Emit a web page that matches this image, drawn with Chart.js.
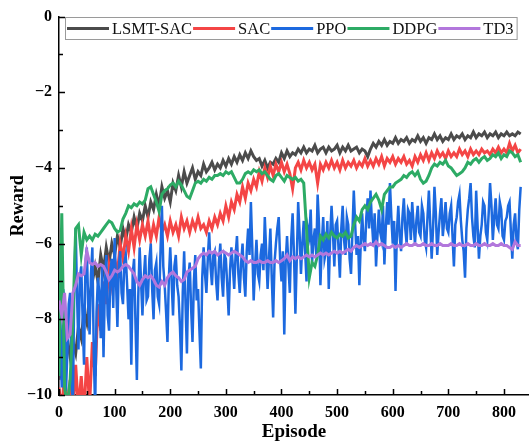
<!DOCTYPE html>
<html>
<head>
<meta charset="utf-8">
<script src="https://cdn.jsdelivr.net/npm/chart.js@4/dist/chart.umd.min.js"></script>
<style>
  body { margin: 0; background: #fff; }
  #rewardChart { display: block; }
</style>
</head>
<body>
<canvas id="rewardChart" width="529" height="447"></canvas>
<script>
// most series every 5 episodes, PPO every 2.5
const STEP = 5;
const PPO_STEP = 2.5;

const lsmtSac = [
  -9.6, -9.2, -8.8, -8.5, -9.0, -8.6, -8.9, -8.2, -8.5, -7.8,
  -8.1, -7.4, -7.0, -6.6, -7.0, -6.3, -6.7, -6.1, -6.5, -6.0,
  -6.3, -5.8, -6.1, -5.6, -5.9, -5.5, -5.7, -5.3, -5.6, -5.2,
  -5.4, -5.0, -5.3, -4.9, -5.1, -4.7, -5.0, -4.5, -4.8, -4.6,
  -4.9, -4.4, -4.6, -4.2, -4.5, -4.1, -4.4, -4.2, -4.0, -4.3,
  -4.1, -4.2, -3.9, -4.1, -4.0, -3.85, -4.05, -3.9, -4.0, -3.8,
  -3.95, -3.75, -3.9, -3.7, -3.85, -3.65, -3.8, -3.6, -3.75, -3.55,
  -3.7, -3.8, -3.75, -3.95, -3.8, -4.0, -3.85, -3.9, -3.75, -3.85,
  -3.6, -3.75, -3.55, -3.7, -3.6, -3.65, -3.5, -3.6, -3.45, -3.6,
  -3.5, -3.55, -3.4, -3.6, -3.5, -3.45, -3.6, -3.45, -3.55, -3.5,
  -3.4, -3.6, -3.45, -3.55, -3.4, -3.55, -3.5, -3.45, -3.6, -3.5,
  -3.55, -3.7, -3.5, -3.35, -3.45, -3.3, -3.4, -3.25, -3.4, -3.3,
  -3.35, -3.2, -3.35, -3.25, -3.3, -3.2, -3.35, -3.25, -3.3, -3.15,
  -3.3, -3.2, -3.35, -3.2, -3.25, -3.1, -3.25, -3.15, -3.3, -3.2,
  -3.25, -3.1, -3.25, -3.15, -3.2, -3.1, -3.25, -3.15, -3.2, -3.05,
  -3.2, -3.1, -3.15, -3.05, -3.2, -3.1, -3.15, -3.05, -3.2, -3.1,
  -3.15, -3.05, -3.15, -3.1, -3.15, -3.05, -3.1
];

const sac = [
  -9.8, -10.5, -9.3, -10.5, -9.6, -10.5, -9.2, -10.4, -9.5, -10.5,
  -9.0, -10.3, -8.6, -9.5, -7.6, -8.3, -7.0, -7.6, -6.6, -7.1,
  -6.4, -6.8, -6.0, -6.4, -5.8, -6.2, -5.6, -6.1, -5.5, -5.9,
  -5.5, -5.8, -5.4, -5.9, -5.5, -5.8, -5.3, -5.7, -5.5, -5.8,
  -5.4, -5.7, -5.5, -5.8, -5.3, -5.6, -5.4, -5.7, -5.4, -5.6,
  -5.3, -5.6, -5.5, -5.7, -5.4, -5.6, -5.3, -5.5, -5.2, -5.4,
  -5.0, -5.3, -4.9, -5.1, -4.7, -4.9, -4.5, -4.8, -4.4, -4.6,
  -4.3, -4.5, -4.1, -4.35, -4.0, -4.25, -3.95, -4.2, -3.9, -4.1,
  -3.85, -4.1, -3.9, -4.15, -4.55, -4.0, -3.85, -4.05, -3.8, -4.0,
  -3.85, -4.05, -3.9, -4.4, -3.9, -4.05, -3.85, -4.0, -3.8, -4.0,
  -3.85, -4.05, -3.8, -4.0, -3.85, -3.95, -3.8, -4.0, -3.85, -3.95,
  -3.75, -3.95, -3.8, -3.95, -3.75, -3.9, -3.7, -3.95, -3.75, -3.85,
  -3.7, -3.9, -3.75, -3.85, -3.7, -3.9, -3.8, -3.95, -3.7, -3.85,
  -3.65, -3.8, -3.6, -3.8, -3.6, -3.75, -3.55, -3.7, -3.6, -3.75,
  -3.55, -3.7, -3.6, -3.7, -3.5, -3.65, -3.55, -3.7, -3.5, -3.65,
  -3.55, -3.65, -3.5, -3.6, -3.55, -3.65, -3.5, -3.6, -3.45, -3.6,
  -3.5, -3.6, -3.35, -3.55, -3.4, -3.6, -3.5
];

const ppo = [
  -7.3, -8.6, -9.8, -7.2, -7.5, -9.9, -8.9, -7.6, -7.3, -9.5, -10.3, -7.0, -5.6, -7.4, -8.8, -6.9, -6.6, -8.0, -9.2, -6.5,
  -6.1, -7.6, -8.4, -6.8, -6.1, -8.9, -10.4, -7.8, -6.9, -7.3, -8.5, -6.6, -9.0, -7.1, -6.3, -7.9, -8.3, -6.7, -6.4, -7.7,
  -5.85, -7.0, -8.2, -6.6, -6.2, -7.3, -7.6, -6.5, -6.3, -7.1, -8.0, -7.2, -9.2, -6.8, -6.4, -8.1, -9.6, -7.4, -6.1, -7.0,
  -7.9, -6.9, -6.3, -7.5, -7.4, -6.4, -6.0, -7.2, -8.0, -6.7, -6.5, -7.4, -7.6, -6.2, -5.0, -6.6, -7.1, -7.8, -8.6, -6.9,
  -6.1, -7.0, -7.9, -6.6, -6.3, -7.1, -7.4, -8.2, -9.35, -7.3, -6.2, -7.6, -8.9, -6.9, -6.5, -7.7, -8.6, -7.0, -6.3, -7.5,
  -7.2, -8.3, -9.3, -6.9, -6.1, -6.8, -7.3, -6.4, -5.7, -6.6, -7.1, -6.3, -6.2, -7.0, -7.5, -6.5, -6.0, -6.9, -7.4, -6.3,
  -6.4, -7.1, -7.9, -6.7, -6.1, -6.6, -7.2, -6.3, -5.8, -6.8, -7.3, -6.5, -6.0, -6.9, -7.4, -6.2, -5.6, -6.3, -4.9, -6.1,
  -7.5, -6.6, -5.9, -6.8, -7.0, -6.3, -6.0, -6.7, -5.3, -6.2, -7.2, -6.4, -5.6, -6.9, -7.95, -6.5, -6.0, -5.6, -5.3, -6.4,
  -7.0, -6.2, -8.4, -6.5, -5.8, -6.6, -7.3, -5.9, -5.2, -6.3, -7.85, -6.4, -4.9, -5.7, -6.8, -6.0, -5.4, -6.2, -7.0, -5.6,
  -5.8, -5.1, -6.5, -5.9, -5.6, -6.3, -4.7, -5.5, -7.1, -6.0, -5.3, -6.4, -6.2, -5.4, -7.2, -5.8, -5.0, -5.7, -6.6, -5.5,
  -5.4, -6.1, -6.9, -5.6, -5.0, -5.9, -6.3, -5.3, -5.5, -6.4, -6.8, -5.7, -4.6, -5.5, -6.3, -5.8, -7.1, -6.0, -5.2, -5.9,
  -6.2, -5.3, -4.8, -5.6, -4.6, -5.4, -6.0, -5.2, -6.6, -5.8, -5.1, -5.7, -5.9, -5.0, -6.55, -5.6, -4.9, -5.5, -4.4, -5.3,
  -6.0, -5.4, -7.25, -5.7, -5.0, -5.8, -6.2, -5.3, -4.8, -5.6, -6.0, -5.1, -5.2, -5.9, -4.9, -5.5, -6.0, -5.4, -5.0, -5.7,
  -5.8, -5.0, -5.2, -5.9, -6.1, -5.3, -4.6, -5.5, -6.4, -5.6, -4.5, -5.2, -6.3, -5.7, -5.2, -4.8, -5.8, -5.4, -4.9, -5.6,
  -5.7, -5.2, -5.0, -5.8, -6.6, -5.5, -5.3, -4.9, -4.7, -5.4, -5.9, -6.2, -6.9, -5.6, -5.1, -4.8, -4.4, -5.3, -5.8, -6.1,
  -4.6, -5.5, -6.4, -5.8, -5.5, -4.9, -5.0, -5.7, -5.9, -5.2, -4.4, -5.0, -5.9, -5.3, -4.8, -5.5, -5.6, -4.9, -5.1, -5.8,
  -5.9, -5.4, -5.3, -5.0, -4.9, -5.7, -6.4, -5.5, -5.2, -5.9, -6.15, -5.1, -4.5
];

const ddpg = [
  -9.5, -5.2, -9.8, -10.3, -9.6, -8.0, -5.6, -5.5, -6.3, -5.7,
  -5.9, -5.8, -5.9, -5.75, -5.8, -5.7, -5.6, -5.5, -5.4, -5.45,
  -5.6, -5.7, -5.65, -5.35, -5.2, -5.0, -5.05, -4.95, -5.0, -4.9,
  -4.95, -4.85, -4.55, -4.5, -4.7, -4.9, -5.15, -4.7, -4.6, -4.55,
  -4.45, -4.4, -4.5, -4.35, -4.45, -4.6, -4.75, -4.8, -4.6, -4.4,
  -4.35, -4.4, -4.3, -4.35, -4.25, -4.3, -4.2, -4.2, -4.15, -4.2,
  -4.1, -4.15, -4.1, -4.25, -4.4, -4.4, -4.3, -4.15, -4.1, -4.15,
  -4.05, -4.1, -4.05, -4.15, -4.1, -4.2, -4.3, -4.35, -4.2, -4.15,
  -4.25, -4.35, -4.2, -4.25, -4.3, -4.25, -4.35, -4.3, -4.4, -5.6,
  -6.9, -6.5, -6.6, -6.3, -5.8, -5.9, -5.75, -5.85, -5.7, -5.8,
  -5.85, -5.75, -5.8, -5.7, -5.85, -5.8, -5.5, -5.3, -5.4, -5.1,
  -5.0, -5.1, -4.9, -4.8, -4.7, -4.85, -5.1, -4.7, -4.6, -4.5,
  -4.5, -4.4, -4.35, -4.3, -4.2, -4.25, -4.15, -4.1, -4.2, -4.1,
  -4.3, -4.4, -4.35, -4.2, -4.0, -3.9, -3.95, -3.85, -3.9, -3.8,
  -3.95, -4.0, -4.1, -4.2, -4.15, -4.1, -4.0, -3.85, -3.9, -3.8,
  -3.75, -3.85, -3.75, -3.7, -3.8, -3.75, -3.65, -3.7, -3.6, -3.75,
  -3.65, -3.7, -3.55, -3.6, -3.7, -3.65, -3.85
];

const td3 = [
  -7.5, -7.9, -7.3, -8.5, -8.4, -7.3, -7.1, -6.8, -6.85, -6.8,
  -6.2, -6.5, -6.55, -6.5, -6.6, -6.55, -6.6, -6.75, -6.95, -6.85,
  -6.7, -6.75, -6.7, -6.6, -6.55, -6.6, -6.7, -6.8, -7.0, -7.1,
  -6.95, -6.85, -6.9, -6.85, -6.95, -7.1, -7.15, -7.0, -7.1, -6.9,
  -6.8, -6.75, -6.85, -6.9, -7.0, -6.95, -6.75, -6.7, -6.65, -6.6,
  -6.4, -6.3, -6.25, -6.3, -6.2, -6.25, -6.2, -6.3, -6.25, -6.2,
  -6.25, -6.3, -6.25, -6.2, -6.25, -6.3, -6.35, -6.45, -6.5, -6.45,
  -6.5, -6.5, -6.45, -6.5, -6.5, -6.45, -6.5, -6.5, -6.45, -6.5,
  -6.45, -6.4, -6.3, -6.45, -6.35, -6.4, -6.35, -6.4, -6.35, -6.3,
  -6.35, -6.3, -6.35, -6.3, -6.25, -6.3, -6.25, -6.3, -6.25, -6.2,
  -6.25, -6.2, -6.25, -6.2, -6.15, -6.2, -6.1, -6.05, -6.1, -6.05,
  -6.0, -6.05, -6.0, -6.05, -5.95, -6.05, -6.0, -6.05, -6.1, -6.1,
  -6.05, -6.1, -6.05, -6.1, -6.05, -6.0, -6.05, -6.05, -6.0, -6.05,
  -6.05, -6.0, -6.05, -6.05, -6.0, -6.05, -6.05, -6.0, -6.05, -6.05,
  -6.05, -6.0, -6.05, -6.05, -6.0, -6.05, -6.05, -6.0, -6.05, -6.05,
  -6.0, -6.05, -6.05, -6.0, -6.05, -6.05, -6.0, -6.05, -6.05, -6.0,
  -6.05, -6.05, -6.1, -6.15, -5.95, -6.05, -6.05
];

const seriesNames = ['LSMT-SAC', 'SAC', 'PPO', 'DDPG', 'TD3'];
const seriesColors = ['#4b4b4b', '#f44545', '#1c69df', '#2dab65', '#b277dc'];
const seriesSteps = [STEP, STEP, PPO_STEP, STEP, STEP];
const seriesWidths = [3, 3, 2.5, 3, 3];

const xTicks = [0, 100, 200, 300, 400, 500, 600, 700, 800];
const yTicks = [0, -2, -4, -6, -8, -10];

const FONT = "'Liberation Serif', 'Times New Roman', serif";

function toPoints(values, step) {
  return values.map((v, i) => ({ x: i * step, y: v }));
}

// small inward tick marks on both axes (major + minor)
const innerTicks = {
  id: 'innerTicks',
  afterDraw(chart) {
    const { ctx, scales: { x, y } } = chart;
    ctx.save();
    ctx.strokeStyle = '#000';
    ctx.lineWidth = 1.5;
    ctx.beginPath();
    for (let v = 0; v <= x.max; v += 50) {
      const px = Math.round(x.getPixelForValue(v)) + 0.5;
      const len = v % 100 === 0 ? 6 : 4;
      ctx.moveTo(px, y.bottom);
      ctx.lineTo(px, y.bottom - len);
    }
    for (let v = -10; v <= 0; v += 1) {
      const py = Math.round(y.getPixelForValue(v)) + 0.5;
      const len = v % 2 === 0 ? 6 : 4;
      ctx.moveTo(x.left, py);
      ctx.lineTo(x.left + len, py);
    }
    ctx.stroke();
    ctx.restore();
  }
};

// one-row boxed legend like the original figure
const boxLegend = {
  id: 'boxLegend',
  afterDraw(chart) {
    const ctx = chart.ctx;
    const left = 65, top = 17, h = 22, lineLen = 42;
    ctx.save();
    ctx.font = '16.5px ' + FONT;
    ctx.textBaseline = 'middle';
    let cx = left + 2;
    const items = chart.data.datasets.map(ds => {
      const w = ctx.measureText(ds.label).width;
      const item = { ds, x: cx, w };
      cx += lineLen + 4 + w;
      return item;
    });
    const right = Math.min(cx + 2, chart.width - 3);
    ctx.fillStyle = '#fff';
    ctx.fillRect(left, top, right - left, h);
    ctx.strokeStyle = '#9a9a9a';
    ctx.lineWidth = 1;
    ctx.strokeRect(left + 0.5, top + 0.5, right - left, h);
    const midY = top + h / 2 + 0.5;
    items.forEach(({ ds, x }) => {
      ctx.strokeStyle = ds.borderColor;
      ctx.lineWidth = 3;
      ctx.beginPath();
      ctx.moveTo(x, midY);
      ctx.lineTo(x + lineLen, midY);
      ctx.stroke();
      ctx.fillStyle = '#111';
      ctx.fillText(ds.label, x + lineLen + 3, midY + 1);
    });
    ctx.restore();
  }
};

const allSeries = [lsmtSac, sac, ppo, ddpg, td3];

const datasets = allSeries.map((values, i) => ({
  label: seriesNames[i],
  data: toPoints(values, seriesSteps[i]),
  borderColor: seriesColors[i],
  backgroundColor: seriesColors[i],
  borderWidth: seriesWidths[i],
  pointRadius: 0,
  tension: 0,
  fill: false,
  order: allSeries.length - i   // later series drawn on top
}));

const ctx = document.getElementById('rewardChart').getContext('2d');
new Chart(ctx, {
  type: 'line',
  data: { datasets },
  options: {
    responsive: false,
    animation: false,
    layout: { padding: { top: 15, right: 0, bottom: 0, left: 0 } },
    plugins: {
      legend: { display: false },
      tooltip: { enabled: false }
    },
    scales: {
      x: {
        type: 'linear',
        min: 0,
        max: 845,
        afterFit(scale) { scale.height = 52; },
        afterBuildTicks(scale) { scale.ticks = xTicks.map(v => ({ value: v })); },
        grid: { display: false, drawTicks: false },
        border: { display: true, color: '#000', width: 1.5 },
        ticks: {
          color: '#000',
          padding: 8,
          maxRotation: 0,
          font: { family: FONT, size: 16, weight: 'bold' }
        },
        title: {
          display: true,
          text: 'Episode',
          color: '#000',
          padding: { top: 0, bottom: 4 },
          font: { family: FONT, size: 19, weight: 'bold' }
        }
      },
      y: {
        min: -10,
        max: 0,
        afterFit(scale) { scale.width = 59; },
        afterBuildTicks(scale) { scale.ticks = yTicks.map(v => ({ value: v })); },
        grid: { display: false, drawTicks: false },
        border: { display: true, color: '#000', width: 1.5 },
        ticks: {
          color: '#000',
          padding: 7,
          font: { family: FONT, size: 16, weight: 'bold' },
          callback: v => (v < 0 ? '\u2212' + Math.abs(v) : String(v))
        },
        title: {
          display: true,
          text: 'Reward',
          color: '#000',
          padding: { top: 8, bottom: 0 },
          font: { family: FONT, size: 18, weight: 'bold' }
        }
      }
    }
  },
  plugins: [innerTicks, boxLegend]
});
</script>
</body>
</html>
